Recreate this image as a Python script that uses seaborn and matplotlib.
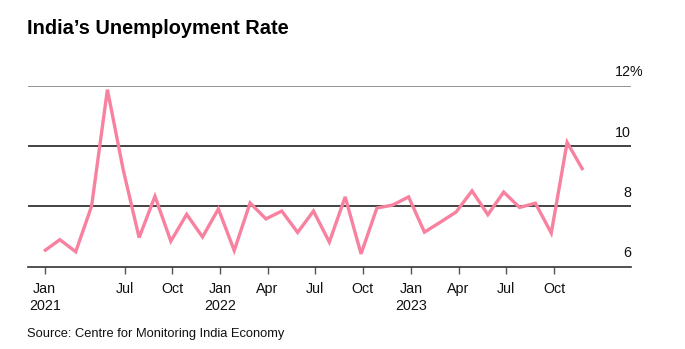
import matplotlib
matplotlib.use("Agg")
import matplotlib.pyplot as plt
import matplotlib.transforms as mtransforms
import seaborn as sns
import pandas as pd
import numpy as np

# ---- data ----
months = pd.date_range("2021-01-01", "2023-11-01", freq="MS").strftime("%Y-%m").tolist()
unemployment = [6.51, 6.89, 6.49, 8.00, 11.87, 9.20, 6.96, 8.33, 6.84, 7.73, 6.98, 7.91,
                6.53, 8.11, 7.58, 7.84, 7.13, 7.84, 6.81, 8.31, 6.42, 7.94, 8.04, 8.31,
                7.14, 7.47, 7.81, 8.51, 7.72, 8.47, 7.96, 8.10, 7.11, 10.12, 9.20]
tick_labels = ["Jan\n2021", "Jul", "Oct", "Jan\n2022", "Apr", "Jul", "Oct",
               "Jan\n2023", "Apr", "Jul", "Oct"]
tick_index = [0.05, 5.1, 8.1, 11.1, 14.1, 17.1, 20.1, 23.15, 26.15, 29.15, 32.2]
y_levels = [6, 8, 10, 12]

df = pd.DataFrame({"idx": np.arange(len(unemployment)), "rate": unemployment})

sns.set_style("white")
plt.rcParams["font.family"] = ["Liberation Sans", "DejaVu Sans"]

W, H = 685, 349
fig = plt.figure(figsize=(W / 100, H / 100), dpi=100)
left, right = 28 / W, 631 / W
top_px, bot_px = 85.7, 266.5
ax = fig.add_axes([left, 1 - bot_px / H, right - left, (bot_px - top_px) / H])

sns.lineplot(data=df, x="idx", y="rate", ax=ax, color="#f7819f", linewidth=2.4,
             solid_joinstyle="miter", solid_capstyle="butt")

ax.set_xlim(-1.01, 37.03)
ax.set_ylim(6, 12)

for v in y_levels[1:]:
    ax.axhline(v, color="#808080" if v == 12 else "#222222", linewidth=1.2, zorder=0)

for s in ["top", "right", "left"]:
    ax.spines[s].set_visible(False)
ax.spines["bottom"].set_color("#333333")
ax.spines["bottom"].set_linewidth(1.2)

ax.set_yticks([])
ax.set_xticks(tick_index)
ax.set_xticklabels(tick_labels, fontsize=10.3, color="#111111", linespacing=1.3)
ax.tick_params(axis="x", length=5, width=1, color="#555555", pad=6, bottom=True)
ax.set_xlabel("")
ax.set_ylabel("")

# right-side value labels
off = 13.4 / ((bot_px - top_px) / 6)
ytrans = ax.get_yaxis_transform()
for v in y_levels:
    label = f"{v}%" if v == 12 else str(v)
    tr = mtransforms.offset_copy(ytrans, fig=fig, x=12.5 if v == 12 else 0, y=0, units="dots")
    ax.text(1.0, v + off, label, transform=tr, ha="right",
            va="center", fontsize=10.3, color="#111111", clip_on=False)

fig.text(27 / W, 1 - 29 / H, "India\u2019s Unemployment Rate", fontsize=14.4,
         fontweight="bold", ha="left", va="center", color="#000000")
fig.text(27 / W, 1 - 334 / H, "Source: Centre for Monitoring India Economy",
         fontsize=9.3, ha="left", va="center", color="#111111")

fig.savefig("out.png", dpi=100)
